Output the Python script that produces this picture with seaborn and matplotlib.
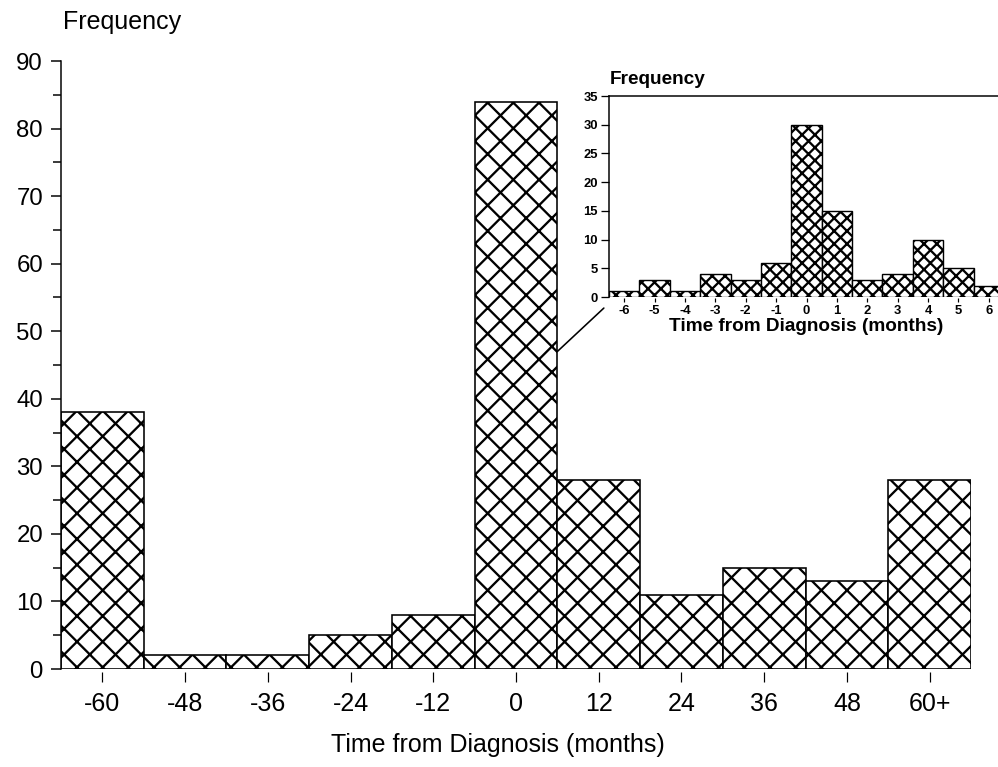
import numpy as np
import matplotlib
matplotlib.use("Agg")
import matplotlib.pyplot as plt
import seaborn as sns
from matplotlib.patches import ConnectionPatch
from matplotlib.ticker import MultipleLocator

# main histogram (yearly bins)
main_labels = ["-60", "-48", "-36", "-24", "-12", "0", "12", "24", "36", "48", "60+"]
main_counts = [38, 2, 2, 5, 8, 84, 28, 11, 15, 13, 28]

# inset histogram (monthly bins around diagnosis)
inset_labels = ["-6", "-5", "-4", "-3", "-2", "-1", "0", "1", "2", "3", "4", "5", "6"]
inset_counts = [1, 3, 1, 4, 3, 6, 30, 15, 3, 4, 10, 5, 2]

DPI = 77
S = 72 / DPI   # sizes below are written as pixels, converted to points

sns.set_style("ticks")
plt.rcParams["font.family"] = ["Liberation Sans", "DejaVu Sans"]
plt.rcParams["hatch.linewidth"] = 2.3 * S
plt.rcParams["hatch.color"] = "black"
plt.rcParams["axes.linewidth"] = 1.5 * S
for k in ["text.color", "axes.labelcolor", "xtick.color", "ytick.color", "axes.edgecolor"]:
    plt.rcParams[k] = "black"

fig = plt.figure(figsize=(998 / DPI, 767 / DPI), dpi=DPI)

# ---- main axes ----
ax = fig.add_axes([61 / 998, 98 / 767, 910 / 998, 608 / 767])
sns.barplot(x=main_labels, y=main_counts, ax=ax, color="white", saturation=1,
            edgecolor="black", linewidth=1.6 * S, hatch="x", width=1.0)
ax.set_xlim(-0.5, len(main_labels) - 0.5)
ax.set_ylim(0, 90)
ax.yaxis.set_major_locator(MultipleLocator(10))
ax.yaxis.set_minor_locator(MultipleLocator(5))
for s in ["top", "right"]:
    ax.spines[s].set_visible(False)
ax.spines["bottom"].set_position(("outward", 3 * S))
ax.spines["bottom"].set_visible(False)
ax.tick_params(axis="y", which="major", length=10 * S, width=1.5 * S, pad=8 * S, labelsize=24 * S)
ax.tick_params(axis="y", which="minor", length=8 * S, width=1.5 * S)
ax.tick_params(axis="x", length=10 * S, width=1.2 * S, pad=10 * S, labelsize=25 * S)
ax.set_xlabel("Time from Diagnosis (months)", fontsize=25 * S)
ax.xaxis.set_label_coords(0.48, -0.106)
ax.set_ylabel("")
fig.text(63 / 998, 1 - 22 / 767, "Frequency", fontsize=25 * S, ha="left", va="center")

# ---- inset axes ----
ins = fig.add_axes([609 / 998, 470 / 767, 395 / 998, 201 / 767])
sns.barplot(x=inset_labels, y=inset_counts, ax=ins, color="white", saturation=1,
            edgecolor="black", linewidth=1.4 * S, hatch="xx", width=1.0)
ins.set_xlim(-0.5, len(inset_labels) - 0.5)
ins.set_ylim(0, 35)
ins.yaxis.set_major_locator(MultipleLocator(5))
ins.spines["right"].set_visible(False)
ins.spines["bottom"].set_position(("outward", 1 * S))
ins.spines["bottom"].set_visible(False)
ins.tick_params(axis="y", length=8 * S, width=1.3 * S, pad=3 * S, labelsize=13 * S)
ins.tick_params(axis="x", length=4 * S, width=1.2 * S, pad=3 * S, labelsize=13 * S)
for t in ins.get_xticklabels() + ins.get_yticklabels():
    t.set_fontweight("bold")
ins.set_xlabel("Time from Diagnosis (months)", fontsize=19 * S, fontweight="bold",
               labelpad=1 * S)
ins.set_ylabel("")
fig.text(610 / 998, 1 - 79 / 767, "Frequency", fontsize=19 * S, fontweight="bold",
         ha="left", va="center")

# connector from the 0 bar to the inset
con = ConnectionPatch(xyA=(5.5, 47), coordsA=ax.transData,
                      xyB=(-0.013, -0.055), coordsB=ins.transAxes,
                      color="black", linewidth=1.6 * S)
fig.add_artist(con)

fig.savefig("out.png", dpi=DPI)
